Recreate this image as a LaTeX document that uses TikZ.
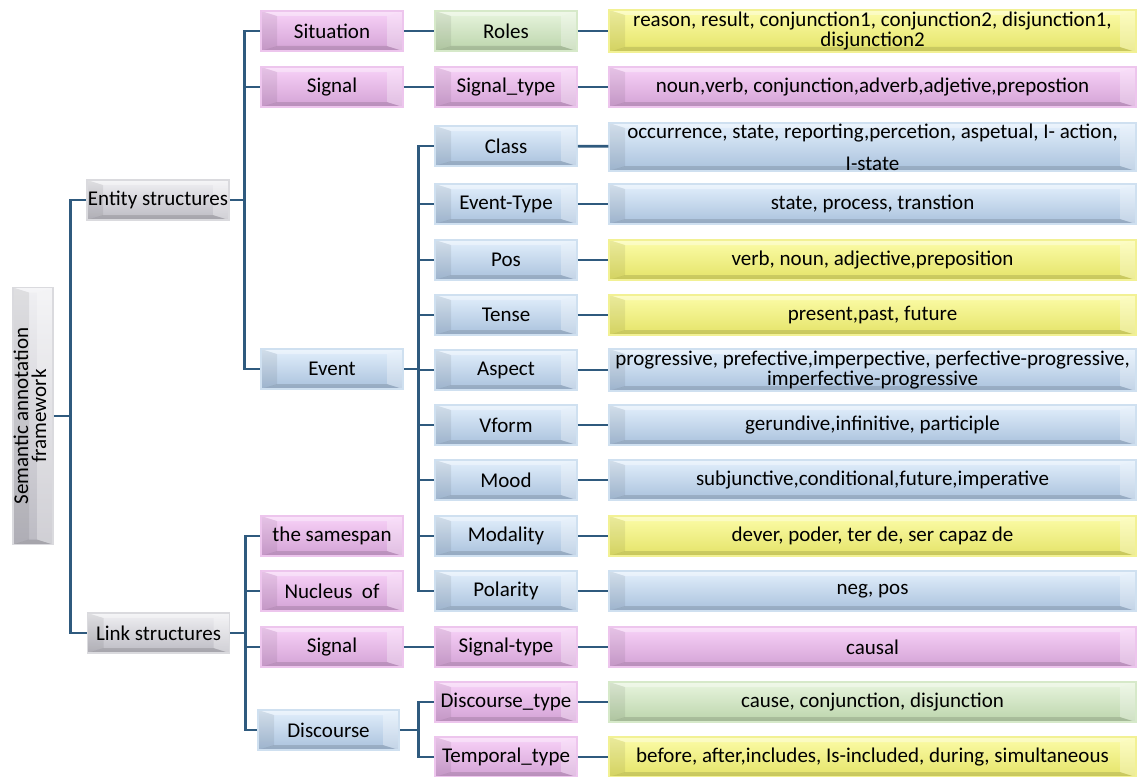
\documentclass[tikz,border=0pt]{standalone}
\usepackage{fontspec}
\setmainfont{Carlito}
\definecolor{lc}{HTML}{2F5A7E}
\definecolor{grayL}{HTML}{F0F0F3}\definecolor{grayD}{HTML}{BCBBC3}\definecolor{grayB}{HTML}{DADADE}
\definecolor{pinkL}{HTML}{F8D2F8}\definecolor{pinkD}{HTML}{D3A2D5}\definecolor{pinkB}{HTML}{EDC5ED}
\definecolor{blueL}{HTML}{E2EFFC}\definecolor{blueD}{HTML}{A9C1DC}\definecolor{blueB}{HTML}{CFE0F0}
\definecolor{greenL}{HTML}{E8F5DE}\definecolor{greenD}{HTML}{BBD4AB}\definecolor{greenB}{HTML}{D6E9C9}
\definecolor{yelL}{HTML}{FCFCA8}\definecolor{yelD}{HTML}{E4E368}\definecolor{yelB}{HTML}{F2F194}
\tikzset{
  conn/.style={draw=lc, line width=2.6pt, line join=miter},
  box/.style={rectangle, inner sep=0pt, align=center,
    font=\fontsize{21}{21}\selectfont,
    top color=#1L, bottom color=#1D, draw=#1B, line width=1.5pt,
    path picture={
      \fill[white,fill opacity=.35] (path picture bounding box.north west) -- (path picture bounding box.north east)
        -- ([shift={(-16pt,-5pt)}]path picture bounding box.north east) -- ([shift={(16pt,-5pt)}]path picture bounding box.north west) -- cycle;
      \fill[black,fill opacity=.12] (path picture bounding box.south west) -- (path picture bounding box.south east)
        -- ([shift={(-16pt,5pt)}]path picture bounding box.south east) -- ([shift={(16pt,5pt)}]path picture bounding box.south west) -- cycle;
      \fill[black,fill opacity=.07] (path picture bounding box.north west) -- (path picture bounding box.south west)
        -- ([shift={(16pt,5pt)}]path picture bounding box.south west) -- ([shift={(16pt,-5pt)}]path picture bounding box.north west) -- cycle;
      \fill[white,fill opacity=.3] (path picture bounding box.north east) -- (path picture bounding box.south east)
        -- ([shift={(-16pt,5pt)}]path picture bounding box.south east) -- ([shift={(-16pt,-5pt)}]path picture bounding box.north east) -- cycle;
    }},
  lvA/.style={box=#1, minimum width=142pt, minimum height=40pt},
  lvV/.style={box=#1, minimum width=527pt, minimum height=40pt},
}
\begin{document}
\begin{tikzpicture}[x=1pt,y=-1pt]
\useasboundingbox (0,0) rectangle (1139,776);
% root
\node[box=gray, minimum width=40pt, minimum height=257pt] (root) at (33,416)
  {\rotatebox{90}{\begin{tabular}{@{}c@{}}Semantic annotation\\[-3pt]framework\end{tabular}}};
% level 1
\node[lvA=gray] (ent) at (158,200) {Entity structures};
\node[lvA=gray] (lnk) at (158.5,633) {Link structures};
% level 2
\node[lvA=pink] (sit) at (332,31) {Situation};
\node[lvA=pink] (sig1) at (332,87) {Signal};
\node[lvA=blue] (evt) at (332,369) {Event};
\node[lvA=pink] (same) at (332,536) {the samespan};
\node[lvA=pink] (nuc) at (332,591) {Nucleus\ \ of};
\node[lvA=pink] (sig2) at (332,647) {Signal};
\node[lvA=blue, minimum width=141pt] (disc) at (328.5,730) {Discourse};
% level 3
\node[lvA=green] (roles) at (506,31) {Roles};
\node[lvA=pink] (sigt) at (506,87) {Signal\_type};
\node[lvA=blue] (class) at (506,146) {Class};
\node[lvA=blue] (etype) at (506,204) {Event-Type};
\node[lvA=blue] (pos) at (506,260) {Pos};
\node[lvA=blue] (tense) at (506,315) {Tense};
\node[lvA=blue] (aspect) at (506,370) {Aspect};
\node[lvA=blue] (vform) at (506,425) {Vform};
\node[lvA=blue] (mood) at (506,480) {Mood};
\node[lvA=blue] (modal) at (506,536) {Modality};
\node[lvA=blue] (polar) at (506,591) {Polarity};
\node[lvA=pink] (sigt2) at (506,647) {Signal-type};
\node[lvA=pink] (dtype) at (506,702) {Discourse\_type};
\node[lvA=pink] (ttype) at (506,757) {Temporal\_type};
% level 4
\node[lvV=yel, minimum height=42pt, font=\fontsize{21}{20}\selectfont] (vroles) at (872.5,31) {reason, result, conjunction1, conjunction2, disjunction1,\\disjunction2};
\node[lvV=pink] (vsigt) at (872.5,87) {noun,verb, conjunction,adverb,adjetive,prepostion};
\node[lvV=blue, minimum height=48pt, font=\fontsize{21}{32}\selectfont] (vclass) at (872.5,147) {occurrence, state, reporting,percetion, aspetual, I- action,\\I-state};
\node[lvV=blue] (vetype) at (872.5,204) {state, process, transtion};
\node[lvV=yel] (vpos) at (872.5,260) {verb, noun, adjective,preposition};
\node[lvV=yel] (vtense) at (872.5,315) {present,past, future};
\node[lvV=blue, minimum height=42pt, font=\fontsize{21}{20}\selectfont] (vaspect) at (872.5,370) {progressive, prefective,imperpective, perfective-progressive,\\imperfective-progressive};
\node[lvV=blue] (vvform) at (872.5,425) {gerundive,infinitive, participle};
\node[lvV=blue] (vmood) at (872.5,480) {subjunctive,conditional,future,imperative};
\node[lvV=yel] (vmodal) at (872.5,536) {dever, poder, ter de, ser capaz de};
\node[lvV=blue] (vpolar) at (872.5,591) {neg, pos};
\node[lvV=pink] (vsigt2) at (872.5,647) {causal};
\node[lvV=green] (vdtype) at (872.5,702) {cause, conjunction, disjunction};
\node[lvV=yel] (vttype) at (872.5,757) {before, after,includes, Is-included, during, simultaneous};
% connectors
\draw[conn] (root.east) -- ++(17,0) coordinate (j0);
\draw[conn] (j0) |- (ent.west);
\draw[conn] (j0) |- (lnk.west);
\draw[conn] (ent.east) -- ++(15,0) coordinate (j1);
\foreach \n in {sit,sig1,evt} \draw[conn] (j1) |- (\n.west);
\draw[conn] (lnk.east) -- ++(15,0) coordinate (j2);
\foreach \n in {same,nuc,sig2,disc} \draw[conn] (j2) |- (\n.west);
\draw[conn] (evt.east) -- ++(15,0) coordinate (j3);
\foreach \n in {class,etype,pos,tense,aspect,vform,mood,modal,polar} \draw[conn] (j3) |- (\n.west);
\draw[conn] (disc.east) -- ++(19,0) coordinate (j4);
\foreach \n in {dtype,ttype} \draw[conn] (j4) |- (\n.west);
\draw[conn] (sit) -- (roles);
\draw[conn] (sig1) -- (sigt);
\draw[conn] (sig2) -- (sigt2);
\foreach \a/\b in {roles/vroles,sigt/vsigt,class/vclass,etype/vetype,pos/vpos,tense/vtense,aspect/vaspect,vform/vvform,mood/vmood,modal/vmodal,polar/vpolar,sigt2/vsigt2,dtype/vdtype,ttype/vttype}
  \draw[conn] (\a) -- (\b);
\end{tikzpicture}
\end{document}
